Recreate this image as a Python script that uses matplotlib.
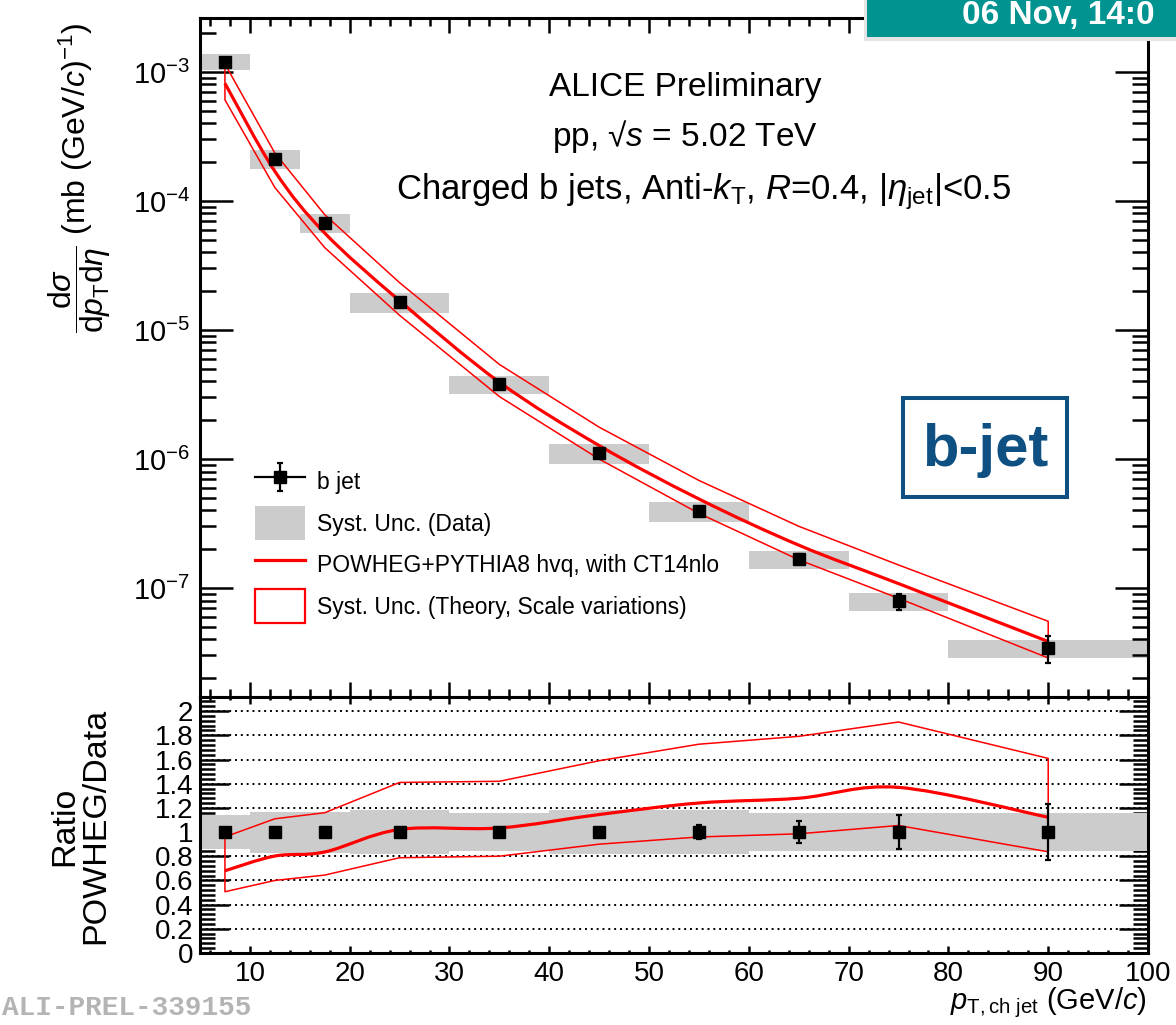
import numpy as np
import matplotlib
matplotlib.use("Agg")
import matplotlib.pyplot as plt
from matplotlib.path import Path
from matplotlib.patches import PathPatch, Patch, Rectangle
from matplotlib.lines import Line2D
from matplotlib.container import ErrorbarContainer
from matplotlib.legend_handler import HandlerTuple, HandlerErrorbar
from matplotlib.ticker import MultipleLocator, LogLocator, NullFormatter, FuncFormatter

plt.rcParams["font.family"] = ["Liberation Sans", "DejaVu Sans"]
plt.rcParams["mathtext.fontset"] = "custom"
plt.rcParams["mathtext.rm"] = "Liberation Sans"
plt.rcParams["mathtext.it"] = "Liberation Sans:italic"
plt.rcParams["mathtext.bf"] = "Liberation Sans:bold"

# pT bins (GeV/c)
pt = np.array([7.5, 12.5, 17.5, 25, 35, 45, 55, 65, 75, 90])
bin_lo = np.array([5, 10, 15, 20, 30, 40, 50, 60, 70, 80])
bin_width = np.array([5, 5, 5, 10, 10, 10, 10, 10, 10, 20])

# measured b-jet cross section (mb (GeV/c)^-1)
xsec = np.array([1.2e-3, 2.12e-4, 6.75e-5, 1.65e-5, 3.81e-6,
                 1.11e-6, 3.95e-7, 1.68e-7, 7.9e-8, 3.43e-8])
stat_rel = np.array([0.02, 0.02, 0.02, 0.02, 0.02, 0.03, 0.06, 0.09, 0.14, 0.23])
syst_rel = np.array([0.14, 0.17, 0.17, 0.18, 0.16, 0.18, 0.18, 0.16, 0.16, 0.16])

# POWHEG+PYTHIA8 hvq (CT14nlo), central value and scale variations
powheg = np.array([8.16e-4, 1.70e-4, 5.64e-5, 1.686e-5, 3.94e-6,
                   1.271e-6, 4.90e-7, 2.15e-7, 1.082e-7, 3.85e-8])
powheg_up = np.array([1.152e-3, 2.353e-4, 7.83e-5, 2.327e-5, 5.41e-6,
                      1.765e-6, 6.82e-7, 3.01e-7, 1.509e-7, 5.52e-8])
powheg_down = np.array([6.08e-4, 1.272e-4, 4.35e-5, 1.30e-5, 3.05e-6,
                        9.99e-7, 3.79e-7, 1.656e-7, 8.33e-8, 2.87e-8])

W, H = 1176, 1025


def fx(px):
    return px / W


def fy(py):
    return 1 - py / H


def smooth_path(x, y):
    # Catmull-Rom through the points, written as cubic Bezier segments
    pts = np.column_stack([x, y])
    ext = np.vstack([pts[0], pts, pts[-1]])
    verts = [pts[0]]
    codes = [Path.MOVETO]
    for i in range(len(pts) - 1):
        p0, p1, p2, p3 = ext[i], ext[i + 1], ext[i + 2], ext[i + 3]
        verts += [p1 + (p2 - p0) / 6, p2 - (p3 - p1) / 6, p2]
        codes += [Path.CURVE4] * 3
    return np.array(verts), codes


fig = plt.figure(figsize=(W / 100, H / 100), dpi=100)
ax1 = fig.add_axes([fx(200), fy(697), fx(1148) - fx(200), fy(18) - fy(697)])
ax2 = fig.add_axes([fx(200), fy(953), fx(1148) - fx(200), fy(697) - fy(953)], sharex=ax1)

gray = "#cccccc"
red = "#ff0000"

# ---- spectrum ----
ax1.bar(bin_lo, xsec * 2 * syst_rel, bottom=xsec * (1 - syst_rel), width=bin_width,
        align="edge", color=gray, lw=0, zorder=1)
band_x = np.r_[pt, pt[::-1], pt[0]]
band_y = np.r_[powheg_up, powheg_down[::-1], powheg_up[0]]
ax1.plot(band_x, band_y, color=red, lw=1.1, zorder=3)
v, c = smooth_path(pt, np.log10(powheg))
v[:, 1] = 10 ** v[:, 1]
ax1.add_patch(PathPatch(Path(v, c), fill=False, edgecolor=red, lw=2.3, zorder=3))
eb = ax1.errorbar(pt, xsec, yerr=xsec * stat_rel, fmt="s", color="k", ms=8.5,
                  elinewidth=1.6, capsize=2, capthick=1.6, zorder=5)

ax1.set_xlim(5, 100)
ax1.set_yscale("log")
ax1.set_ylim(1.43e-8, 2.62e-3)
ax1.yaxis.set_major_locator(LogLocator(base=10))
ax1.yaxis.set_minor_locator(LogLocator(base=10, subs=np.arange(2, 10)))
ax1.yaxis.set_minor_formatter(NullFormatter())
ax1.xaxis.set_major_locator(MultipleLocator(10))
ax1.xaxis.set_minor_locator(MultipleLocator(2))
ax1.tick_params(which="both", direction="in", top=True, right=True,
                labelbottom=False, labelsize=21, width=1.8, pad=7)
ax1.tick_params(axis="x", which="major", length=11)
ax1.tick_params(axis="x", which="minor", length=6)
ax1.tick_params(axis="y", which="major", length=24)
ax1.tick_params(axis="y", which="minor", length=11.5)

# ---- ratio ----
ones = np.ones_like(pt)
ax2.bar(bin_lo, 2 * syst_rel, bottom=1 - syst_rel, width=bin_width,
        align="edge", color=gray, lw=0, zorder=1)
ratio_x = np.r_[pt, pt[::-1], pt[0]]
ratio_y = np.r_[powheg_up / xsec, (powheg_down / xsec)[::-1], powheg_up[0] / xsec[0]]
ax2.plot(ratio_x, ratio_y, color=red, lw=1.1, zorder=3)
v, c = smooth_path(pt, powheg / xsec)
ax2.add_patch(PathPatch(Path(v, c), fill=False, edgecolor=red, lw=2.3, zorder=3))
ax2.errorbar(pt, ones, yerr=stat_rel, fmt="s", color="k", ms=8.5,
             elinewidth=1.6, capsize=2, capthick=1.6, zorder=5)

ax2.set_ylim(0, 2.117)
ax2.yaxis.set_major_locator(MultipleLocator(0.2))
ax2.yaxis.set_minor_locator(MultipleLocator(0.04))
ax2.yaxis.set_major_formatter(FuncFormatter(lambda val, _: f"{round(val, 2):g}"))
ax2.yaxis.grid(True, which="major", color="k", linestyle=(0, (1, 2)), lw=1.4, zorder=0)
ax2.set_axisbelow(True)
ax2.tick_params(which="both", direction="in", top=True, right=True,
                labelsize=20, width=1.8, pad=6)
ax2.tick_params(axis="y", pad=5)
ax2.tick_params(axis="x", which="major", length=5)
ax2.tick_params(axis="x", which="minor", length=2.5)
ax2.tick_params(axis="y", which="major", length=21)
ax2.tick_params(axis="y", which="minor", length=10.5)

for ax in (ax1, ax2):
    for s in ax.spines.values():
        s.set_linewidth(2.2)

# ---- legend ----
hline = Line2D([], [], color="k", lw=1.6)
handles = [(hline, eb),
           Patch(facecolor=gray, edgecolor="none"),
           Line2D([], [], color=red, lw=2.3),
           Patch(facecolor="none", edgecolor=red, lw=1.6)]
labels = ["b jet", "Syst. Unc. (Data)", "POWHEG+PYTHIA8 hvq, with CT14nlo",
          "Syst. Unc. (Theory, Scale variations)"]
ax1.legend(handles, labels, loc="upper left", bbox_to_anchor=(0.058, 0.342),
           frameon=False, fontsize=16.5, handlelength=2.2, handleheight=1.9,
           handletextpad=0.5, labelspacing=0.33, borderpad=0, borderaxespad=0,
           handler_map={tuple: HandlerTuple(ndivide=1),
                        ErrorbarContainer: HandlerErrorbar(yerr_size=0.6)})

# ---- text ----
fig.text(fx(685), fy(96), "ALICE Preliminary", fontsize=24, ha="center", va="baseline")
fig.text(fx(685), fy(146), "pp, √$s$ = 5.02 TeV", fontsize=24, ha="center", va="baseline")
fig.text(fx(704), fy(199),
         r"Charged b jets, Anti-$k_{\mathrm{T}}$, $R$=0.4, |$\eta_{\mathrm{jet}}$|<0.5",
         fontsize=25, ha="center", va="baseline")

fig.text(fx(80), fy(178),
         r"$\dfrac{\mathrm{d}\sigma}{\mathrm{d}p_{\mathrm{T}}\mathrm{d}\eta}$ (mb (GeV/$c$)$^{-1}$)",
         fontsize=23, rotation=90, ha="center", va="center")
fig.text(fx(80), fy(826), "Ratio\nPOWHEG/Data", fontsize=24.5, rotation=90,
         ha="center", va="center", linespacing=1.0, multialignment="center")
fig.text(fx(1147), fy(1009), r"$p_{\mathrm{T,ch\ jet}}$ (GeV/$c$)", fontsize=21,
         ha="right", va="baseline")

# b-jet tag
fig.add_artist(Rectangle((fx(903), fy(497)), fx(1067) - fx(903), fy(398) - fy(497),
                         transform=fig.transFigure, facecolor="white",
                         edgecolor="#0e5082", lw=2.9, zorder=6))
fig.text(fx(985), fy(450), "b-jet", fontsize=43, fontweight="bold", color="#0e5082",
         ha="center", va="center", zorder=7)

# date banner
fig.add_artist(Rectangle((fx(864), fy(41)), fx(1176) - fx(864), fy(0) - fy(41),
                         transform=fig.transFigure, facecolor="#e4e4e4",
                         edgecolor="none", zorder=8))
fig.add_artist(Rectangle((fx(867), fy(37)), fx(1176) - fx(867), fy(0) - fy(37),
                         transform=fig.transFigure, facecolor="#00938f",
                         edgecolor="none", zorder=9))
fig.text(fx(962), fy(24), "06 Nov, 14:0", fontsize=24, fontweight="bold",
         color="white", ha="left", va="baseline", zorder=10)

fig.text(fx(2), fy(1015), "ALI-PREL-339155", fontsize=20, fontweight="bold",
         family="Liberation Mono", color="#b4b4b4", ha="left", va="baseline")

fig.savefig("out.png", dpi=100)
